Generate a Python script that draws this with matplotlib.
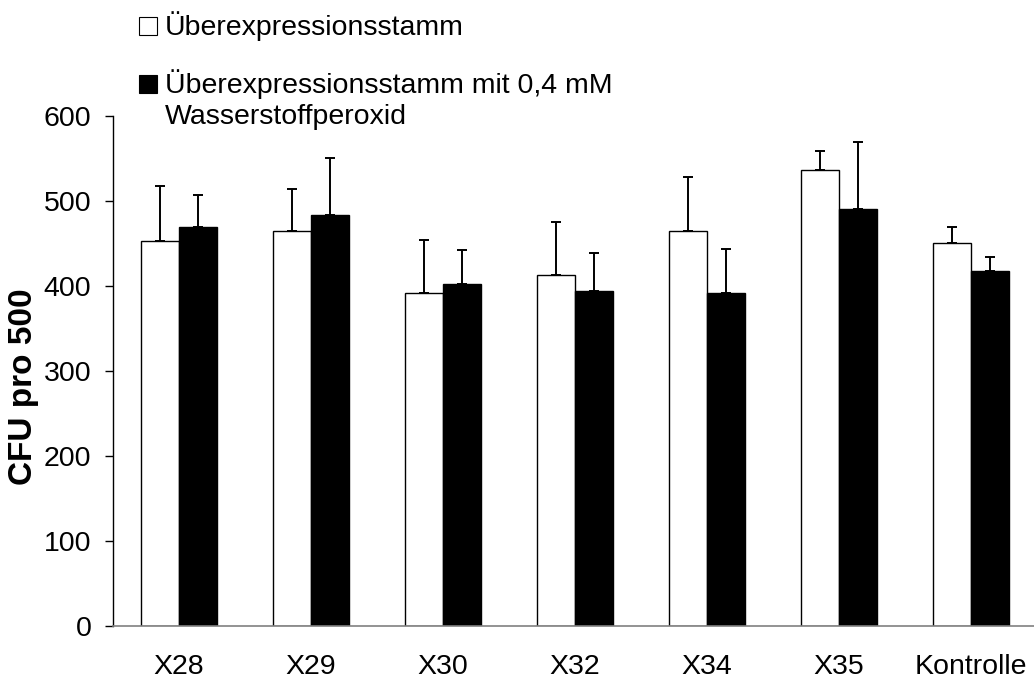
import matplotlib
matplotlib.use('Agg')

import matplotlib.pyplot as plt
import numpy as np
from matplotlib.patches import Rectangle

plt.rcParams['font.family'] = ['Liberation Sans', 'DejaVu Sans']

strains = ['X28', 'X29', 'X30', 'X32', 'X34', 'X35', 'Kontrolle']
cfu_plain = [453, 465, 392, 413, 465, 536, 451]
err_plain = [65, 49, 62, 62, 63, 23, 18]
cfu_h2o2 = [469, 484, 402, 394, 392, 490, 418]
err_h2o2 = [38, 66, 40, 45, 52, 79, 16]
legend_labels = ['Überexpressionsstamm',
                 'Überexpressionsstamm mit 0,4 mM\nWasserstoffperoxid']

W, H = 1034, 680
my_dpi = 100
fs = 20.5
fig = plt.figure(figsize=(W / my_dpi, H / my_dpi), dpi=my_dpi)
ax = fig.add_axes([113 / W, (H - 626) / H, 924 / W, 510 / H])

x = np.arange(len(strains))
bw = 0.288

ax.bar(x - bw / 2, cfu_plain, bw, color='white', edgecolor='black', linewidth=1.0, zorder=2)
ax.bar(x + bw / 2, cfu_h2o2, bw, color='black', edgecolor='black', linewidth=1.0, zorder=2)

# only the upper half of each error bar is shown
ax.errorbar(x - bw / 2, cfu_plain, yerr=[np.zeros(len(x)), err_plain], fmt='none',
            ecolor='black', elinewidth=1.4, capsize=3.3, capthick=1.4, zorder=1)
ax.errorbar(x + bw / 2, cfu_h2o2, yerr=[np.zeros(len(x)), err_h2o2], fmt='none',
            ecolor='black', elinewidth=1.4, capsize=3.3, capthick=1.4, zorder=1)

ax.set_xlim(-0.5, 6.5)
ax.set_ylim(0, 600)
ax.set_yticks(range(0, 601, 100))
ax.set_xticks(x)
ax.set_xticklabels(strains)

for s in ['top', 'right']:
    ax.spines[s].set_visible(False)
ax.spines['left'].set_linewidth(1.0)
ax.spines['bottom'].set_color('#808080')
ax.spines['bottom'].set_linewidth(1.2)

ax.tick_params(axis='y', direction='out', length=6, width=1.0, pad=9.5, labelsize=fs)
ax.tick_params(axis='x', length=0, pad=20, labelsize=fs)

ax.set_ylabel('CFU pro 500', fontsize=24, fontweight='bold')
ax.yaxis.set_label_coords(-0.08, 0.469)

# legend drawn by hand at the top, one text line at a time
colors = ['white', 'black']
baselines = [35, 93]
line_step = 31
for lab, col, yb in zip(legend_labels, colors, baselines):
    fig.add_artist(Rectangle((139 / W, (H - yb) / H), 18 / W, 18 / H,
                             transform=fig.transFigure, facecolor=col,
                             edgecolor='black', linewidth=0.8))
    for i, line in enumerate(lab.split('\n')):
        fig.text(165 / W, (H - yb - i * line_step) / H, line, fontsize=fs,
                 va='baseline', ha='left')

plt.savefig('out.png', dpi=my_dpi)
